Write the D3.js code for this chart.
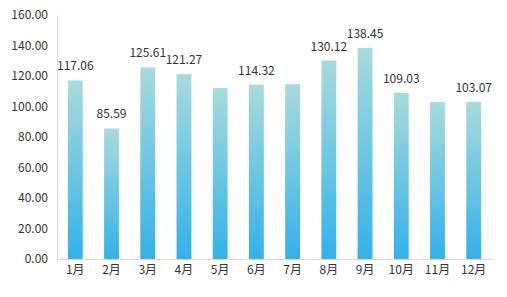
<!DOCTYPE html>
<html><head><meta charset="utf-8">
<script src="https://cdn.jsdelivr.net/npm/d3@7"></script>
<style>body{margin:0;background:#fff}svg{display:block}text{font-family:"Noto Sans CJK SC","Noto Sans",sans-serif}</style>
</head><body><svg id="c" width="507" height="297"></svg>
<script>
const months = ["1月","2月","3月","4月","5月","6月","7月","8月","9月","10月","11月","12月"];
const values = [117.06,85.59,125.61,121.27,112.1,114.32,114.6,130.12,138.45,109.03,102.9,103.07];
const showLabel = [true,true,true,true,false,true,false,true,true,true,false,true];
const yTicks = [0,20,40,60,80,100,120,140,160];

const svg = d3.select("#c");
const m = {l:57, r:15, t:15, b:38};
const W = 507, H = 297;
const x = d3.scaleBand().domain(months).range([m.l, W-m.r]).paddingInner(0.59).paddingOuter(0.3);
const y = d3.scaleLinear().domain([0,160]).range([H-m.b, m.t]);

const defs = svg.append("defs");
const g = defs.append("linearGradient").attr("id","bg").attr("x1",0).attr("y1",0).attr("x2",0).attr("y2",1);
g.append("stop").attr("offset","0%").attr("stop-color","#a9dbdc");
g.append("stop").attr("offset","100%").attr("stop-color","#33b1e9");

svg.selectAll("rect.bar").data(values).enter().append("rect").attr("class","bar")
  .attr("x",(d,i)=>x(months[i])).attr("width",x.bandwidth())
  .attr("y",d=>y(d)).attr("height",d=>y(0)-y(d)).attr("fill","url(#bg)");

const ya = svg.append("g").attr("transform",`translate(${m.l},0)`)
  .call(d3.axisLeft(y).tickValues(yTicks).tickFormat(d=>d.toFixed(2)).tickSize(0).tickPadding(9));
ya.select(".domain").attr("stroke","#d9d9d9");
ya.selectAll("text").attr("font-size",12).attr("fill","#333");

const xa = svg.append("g").attr("transform",`translate(0,${H-m.b})`)
  .call(d3.axisBottom(x).tickSize(0).tickPadding(6));
xa.select(".domain").attr("stroke","#d9d9d9");
xa.selectAll("text").attr("font-size",12).attr("fill","#333");

const labelled = values.map((v,i)=>({v,i})).filter(d=>showLabel[d.i]);
svg.selectAll("text.lbl").data(labelled).enter().append("text").attr("class","lbl")
  .attr("x",d=>x(months[d.i])+x.bandwidth()/2)
  .attr("y",d=>y(d.v)-10).attr("text-anchor","middle").attr("font-size",12).attr("fill","#333")
  .text(d=>d.v.toFixed(2));
</script></body></html>
